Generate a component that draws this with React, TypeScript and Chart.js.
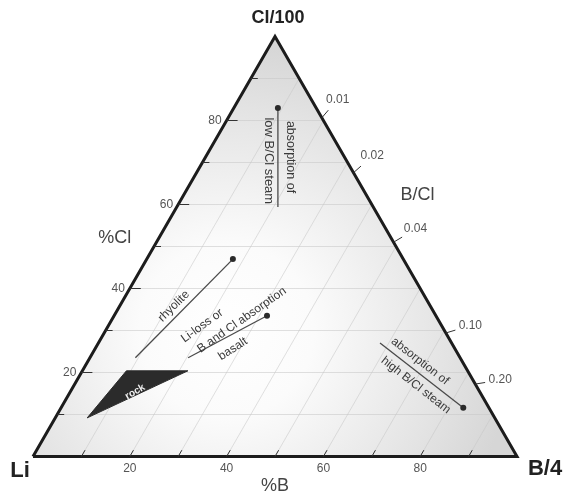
import { useEffect, useRef } from "react";
import { Chart, registerables } from "chart.js";

Chart.register(...registerables);

const FONT = '"Liberation Sans", Arial, Helvetica, sans-serif';

// Ternary axis ticks (percent)
const percentTicks = [10, 20, 30, 40, 50, 60, 70, 80, 90];
const clTickLabels = [20, 40, 60, 80];
const bTickLabels = [20, 40, 60, 80];
// B/Cl ratio ticks on the right side
const ratioTicks = [0.01, 0.02, 0.04, 0.1, 0.2];
const ratioTickLabels = ["0.01", "0.02", "0.04", "0.10", "0.20"];
const ratioScale = 24;

// triangle vertices (%B, %Cl)
const vertexB = [0, 100, 0, 0];
const vertexCl = [0, 0, 100, 0];

// rock field (%B, %Cl)
const rockB = [6.6, 9.1, 21.8, 6.6];
const rockCl = [9.2, 20.4, 20.4, 9.2];

// trend arrows (%B, %Cl), arrow end last
const rhyoliteB = [9.4, 17.8];
const rhyoliteCl = [23.5, 47.0];
const basaltB = [20.3, 31.6];
const basaltCl = [23.5, 33.5];
const lowSteamB = [20.9, 9.1];
const lowSteamCl = [59.4, 83.0];
const highSteamB = [58.2, 83.1];
const highSteamCl = [27.0, 11.6];

// annotation labels (%B, %Cl, rotation, size)
const noteTexts = ["rock", "rhyolite", "Li-loss or", "B and Cl absorption", "basalt", "absorption of", "low B/Cl steam", "absorption of", "high B/Cl steam"];
const noteB = [13.4, 11.2, 19.4, 26.9, 28.5, 17.45, 13.4, 68.6, 70.6];
const noteCl = [15.4, 35.8, 31.1, 32.5, 25.6, 71.3, 70.4, 22.7, 17.0];
const noteRot = [-30, -45, -36, -35, -33, 90, 90, 38, 38];
const noteSize = [10, 12, 12, 12, 12, 12.5, 13, 12, 12];

const toXY = (b: number, cl: number) => ({ x: (b + cl / 2) / 100, y: cl / 100 });
const series = (bs: number[], cls: number[]) => bs.map((b, i) => toXY(b, cls[i]));

function txt(ctx: CanvasRenderingContext2D, s: string, x: number, y: number, rot: number, font: string, color: string, align: CanvasTextAlign = "center") {
  ctx.save();
  ctx.translate(x, y);
  ctx.rotate((rot * Math.PI) / 180);
  ctx.font = font;
  ctx.fillStyle = color;
  ctx.textAlign = align;
  ctx.textBaseline = "middle";
  ctx.fillText(s, 0, 0);
  ctx.restore();
}

const ternaryPlugin = {
  id: "ternary",
  beforeDatasetsDraw(chart: any) {
    const { ctx } = chart;
    const xs = chart.scales.x, ys = chart.scales.y;
    const P = (b: number, cl: number) => [xs.getPixelForValue((b + cl / 2) / 100), ys.getPixelForValue(cl / 100)];
    const [lx, ly] = P(0, 0), [rx, ry] = P(100, 0), [ax, ay] = P(0, 100);
    ctx.save();
    ctx.beginPath();
    ctx.moveTo(lx, ly);
    ctx.lineTo(rx, ry);
    ctx.lineTo(ax, ay);
    ctx.closePath();
    const [gx, gy] = P(25, 30);
    const g = ctx.createRadialGradient(gx, gy, 0, gx, gy, (rx - lx) * 0.6);
    g.addColorStop(0, "#ffffff");
    g.addColorStop(0.3, "#fbfbfb");
    g.addColorStop(0.75, "#e4e4e4");
    g.addColorStop(1, "#d6d6d6");
    ctx.fillStyle = g;
    ctx.fill();
    ctx.clip();
    ctx.strokeStyle = "rgba(200,200,200,0.7)";
    ctx.lineWidth = 0.8;
    for (const t of percentTicks) {
      let [x1, y1] = P(0, t), [x2, y2] = P(100 - t, t);
      ctx.beginPath(); ctx.moveTo(x1, y1); ctx.lineTo(x2, y2); ctx.stroke();
      [x1, y1] = P(t, 0); [x2, y2] = P(t, 100 - t);
      ctx.beginPath(); ctx.moveTo(x1, y1); ctx.lineTo(x2, y2); ctx.stroke();
    }
    ctx.restore();
  },
  afterDatasetsDraw(chart: any) {
    const { ctx } = chart;
    const xs = chart.scales.x, ys = chart.scales.y;
    const P = (b: number, cl: number) => [xs.getPixelForValue((b + cl / 2) / 100), ys.getPixelForValue(cl / 100)];
    const [lx, ly] = P(0, 0), [rx, ry] = P(100, 0), [ax, ay] = P(0, 100);
    ctx.save();
    ctx.strokeStyle = "#333";
    ctx.lineWidth = 1;
    // left (%Cl) ticks
    for (const t of percentTicks) {
      const [x, y] = P(0, t);
      ctx.beginPath(); ctx.moveTo(x, y); ctx.lineTo(x + (clTickLabels.includes(t) ? 11 : 7), y); ctx.stroke();
    }
    for (const t of clTickLabels) {
      const [x, y] = P(0, t);
      txt(ctx, String(t), x - 5, y, 0, `12px ${FONT}`, "#555", "right");
    }
    // bottom (%B) ticks
    for (const t of percentTicks) {
      const [x, y] = P(t, 0);
      const [x2, y2] = P(t, 1.5);
      ctx.beginPath(); ctx.moveTo(x, y); ctx.lineTo(x2, y2); ctx.stroke();
    }
    for (const t of bTickLabels) {
      const [x, y] = P(t, 0);
      txt(ctx, String(t), x, y + 12, 0, `12px ${FONT}`, "#555");
    }
    // B/Cl ratio ticks on right edge: rays from Li vertex
    ctx.font = `12px ${FONT}`;
    ratioTicks.forEach((r, i) => {
      const cl = 100 / (1 + ratioScale * r);
      const [ex, ey] = P(100 - cl, cl);
      let dx = ex - lx, dy = ey - ly;
      const len = Math.hypot(dx, dy);
      dx /= len; dy /= len;
      const tx = ex + dx * 10, ty = ey + dy * 10;
      ctx.beginPath(); ctx.moveTo(ex, ey); ctx.lineTo(tx, ty); ctx.stroke();
      const w = ctx.measureText(ratioTickLabels[i]).width;
      const d = (w / 2) * Math.abs(dx) + 5 * Math.abs(dy) + 3;
      txt(ctx, ratioTickLabels[i], tx + dx * d, ty + dy * d, 0, `12px ${FONT}`, "#555");
    });
    // annotations
    noteTexts.forEach((s, i) => {
      const [x, y] = P(noteB[i], noteCl[i]);
      const isRock = s === "rock";
      txt(ctx, s, x, y, noteRot[i], `${isRock ? "bold " : ""}${noteSize[i]}px ${FONT}`, isRock ? "#f2f2f2" : "#3a3a3a");
    });
    // axis / vertex labels
    txt(ctx, "Cl/100", ax + 3, ay - 18, 0, `bold 18px ${FONT}`, "#222");
    txt(ctx, "Li", lx - 13, ly + 14, 0, `bold 22px ${FONT}`, "#222");
    txt(ctx, "B/4", rx + 28, ry + 12, 0, `bold 22px ${FONT}`, "#222");
    txt(ctx, "%B", (lx + rx) / 2, ly + 30, 0, `18px ${FONT}`, "#444");
    const [cx, cy] = P(0, 52);
    txt(ctx, "%Cl", cx - 44, cy, 0, `18px ${FONT}`, "#444");
    const [bx, by] = P(39, 61);
    txt(ctx, "B/Cl", bx + 48, by - 5, 0, `18px ${FONT}`, "#444");
    ctx.restore();
  },
};

export default function App() {
  const ref = useRef<HTMLCanvasElement>(null);
  useEffect(() => {
    if (!ref.current) return;
    const arrow = (bs: number[], cls: number[]) => ({
      data: series(bs, cls),
      showLine: true,
      borderColor: "#4a4a4a",
      borderWidth: 1.3,
      pointRadius: [0, 3],
      pointBackgroundColor: "#2a2a2a",
      pointBorderWidth: 0,
      clip: false,
    });
    const chart = new Chart(ref.current, {
      type: "scatter",
      data: {
        datasets: [
          {
            data: series(vertexB, vertexCl),
            showLine: true,
            borderColor: "#1c1c1c",
            borderWidth: 3,
            borderJoinStyle: "miter",
            pointRadius: 0,
            clip: false,
          } as any,
          {
            data: series(rockB, rockCl),
            showLine: true,
            fill: "shape",
            backgroundColor: "#2b2b2b",
            borderColor: "#2b2b2b",
            borderWidth: 1,
            pointRadius: 0,
            clip: false,
          } as any,
          arrow(rhyoliteB, rhyoliteCl) as any,
          arrow(basaltB, basaltCl) as any,
          arrow(lowSteamB, lowSteamCl) as any,
          arrow(highSteamB, highSteamCl) as any,
        ],
      },
      options: {
        animation: false,
        responsive: false,
        devicePixelRatio: 1,
        events: [],
        layout: { padding: { left: 33, right: 46, top: 36.5, bottom: 35.5 } },
        scales: {
          x: { type: "linear", min: 0, max: 1, display: false },
          y: { type: "linear", min: 0, max: 1, display: false },
        },
        plugins: { legend: { display: false }, tooltip: { enabled: false } },
      },
      plugins: [ternaryPlugin],
    });
    return () => chart.destroy();
  }, []);
  return (
    <div style={{ position: "fixed", left: 0, top: 0, width: 563, height: 492, background: "#fff" }}>
      <canvas ref={ref} width={563} height={492} style={{ display: "block" }} />
    </div>
  );
}
